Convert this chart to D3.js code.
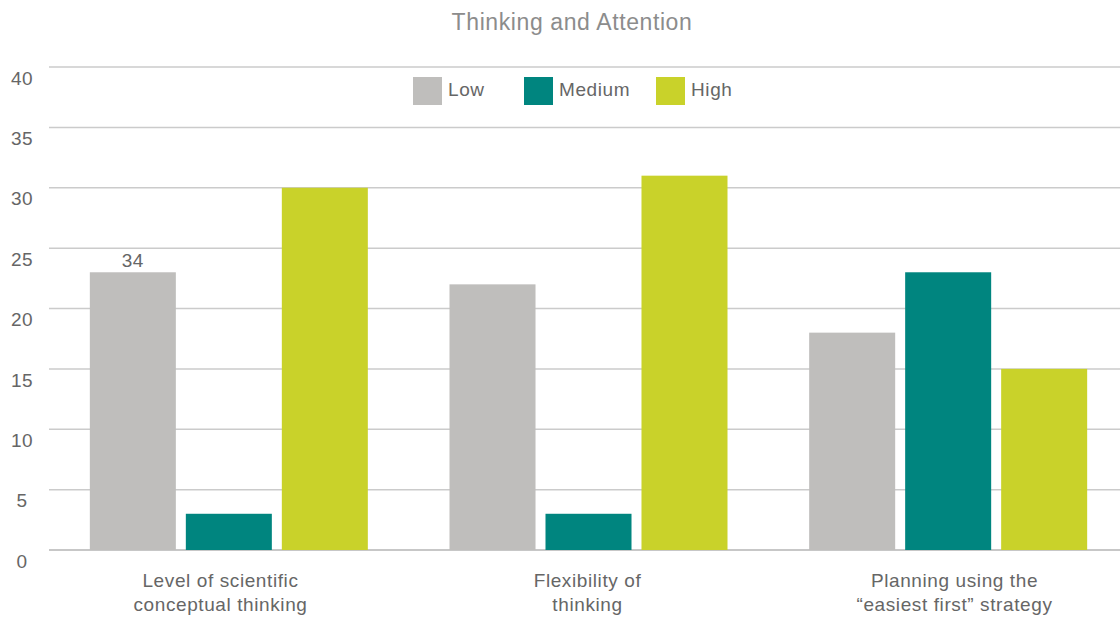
<!DOCTYPE html>
<html>
<head>
<meta charset="utf-8">
<script src="https://cdn.jsdelivr.net/npm/d3@7"></script>
<style>
  html, body { margin: 0; padding: 0; background: #fff; }
  svg { display: block; font-family: "Liberation Sans", Arial, sans-serif; }
</style>
</head>
<body>
<svg id="chart" width="1120" height="617"></svg>
<script>
// Chart data
const categories = [
  ["Level of scientific", "conceptual thinking"],
  ["Flexibility of", "thinking"],
  ["Planning using the", "\u201Ceasiest first\u201D strategy"]
];
const seriesNames = ["Low", "Medium", "High"];
const lowValues = [23, 22, 18];
const mediumValues = [3, 3, 23];
const highValues = [30, 31, 15];
const yTicks = [0, 5, 10, 15, 20, 25, 30, 35, 40];
const seriesColors = ["#bfbebc", "#00857f", "#c9d22a"];
// Text note shown over the first "Low" bar
const notes = [{ category: 0, series: 0, text: "34" }];

const values = [lowValues, mediumValues, highValues];
const catKeys = categories.map((c, i) => i);

const svg = d3.select("#chart");
const W = 1120;

const y = d3.scaleLinear().domain([0, 40]).range([550, 67]);
const x0 = d3.scaleBand().domain(catKeys).range([49, 1128]).padding(0);
// category captions sit on a slightly wider spread than the bar groups
const xLabel = d3.scaleBand().domain(catKeys).range([37, 1138]).padding(0);
const x1 = d3.scaleBand().domain(seriesNames).range([0, 278]).paddingInner(0.104).paddingOuter(0);
const groupOffset = (x0.bandwidth() - 278) / 2;
const color = d3.scaleOrdinal().domain(seriesNames).range(seriesColors);

// Title
svg.append("text")
  .attr("x", 572).attr("y", 30)
  .attr("text-anchor", "middle")
  .attr("font-size", 23)
  .attr("letter-spacing", 0.6)
  .attr("fill", "#8c8c8c")
  .text("Thinking and Attention");

// Gridlines
svg.append("g")
  .selectAll("line")
  .data(yTicks)
  .join("line")
  .attr("x1", 49).attr("x2", W)
  .attr("y1", d => y(d)).attr("y2", d => y(d))
  .attr("stroke", d => d === 0 ? "#b4b4b4" : "#cbcbcb")
  .attr("stroke-width", 1.5);

// Y tick labels
svg.append("g")
  .selectAll("text")
  .data(yTicks)
  .join("text")
  .attr("x", 22)
  .attr("y", d => y(d) + 11)
  .attr("dy", "0.35em")
  .attr("text-anchor", "middle")
  .attr("font-size", 19)
  .attr("letter-spacing", 0.5)
  .attr("fill", "#666")
  .text(d => d);

// Bars
const groups = svg.append("g")
  .selectAll("g")
  .data(catKeys)
  .join("g")
  .attr("transform", i => `translate(${x0(i) + groupOffset},0)`);

groups.selectAll("rect")
  .data(i => seriesNames.map((s, k) => ({ series: s, value: values[k][i] })))
  .join("rect")
  .attr("x", d => x1(d.series))
  .attr("width", x1.bandwidth())
  .attr("y", d => y(d.value))
  .attr("height", d => y(0) - y(d.value))
  .attr("fill", d => color(d.series));

// Note above a bar
svg.append("g")
  .selectAll("text")
  .data(notes)
  .join("text")
  .attr("x", d => x0(d.category) + groupOffset + x1(seriesNames[d.series]) + x1.bandwidth() / 2)
  .attr("y", d => y(values[d.series][d.category]) - 5)
  .attr("text-anchor", "middle")
  .attr("font-size", 19)
  .attr("letter-spacing", 0.5)
  .attr("fill", "#666")
  .text(d => d.text);

// Category labels
const catLabels = svg.append("g")
  .selectAll("text")
  .data(catKeys)
  .join("text")
  .attr("x", i => xLabel(i) + xLabel.bandwidth() / 2)
  .attr("y", 587)
  .attr("text-anchor", "middle")
  .attr("font-size", 19)
  .attr("letter-spacing", 0.6)
  .attr("fill", "#666");
catLabels.selectAll("tspan")
  .data(i => categories[i])
  .join("tspan")
  .attr("x", function() { return d3.select(this.parentNode).attr("x"); })
  .attr("dy", (d, j) => j === 0 ? 0 : 24)
  .text(d => d);

// Legend
const legendX = [413, 524, 656];
const legend = svg.append("g")
  .selectAll("g")
  .data(seriesNames)
  .join("g")
  .attr("transform", (d, k) => `translate(${legendX[k]},77)`);
legend.append("rect")
  .attr("width", 29).attr("height", 28)
  .attr("fill", d => color(d));
legend.append("text")
  .attr("x", 35).attr("y", 12)
  .attr("dy", "0.35em")
  .attr("font-size", 19)
  .attr("letter-spacing", 0.6)
  .attr("fill", "#666")
  .text(d => d);
</script>
</body>
</html>
